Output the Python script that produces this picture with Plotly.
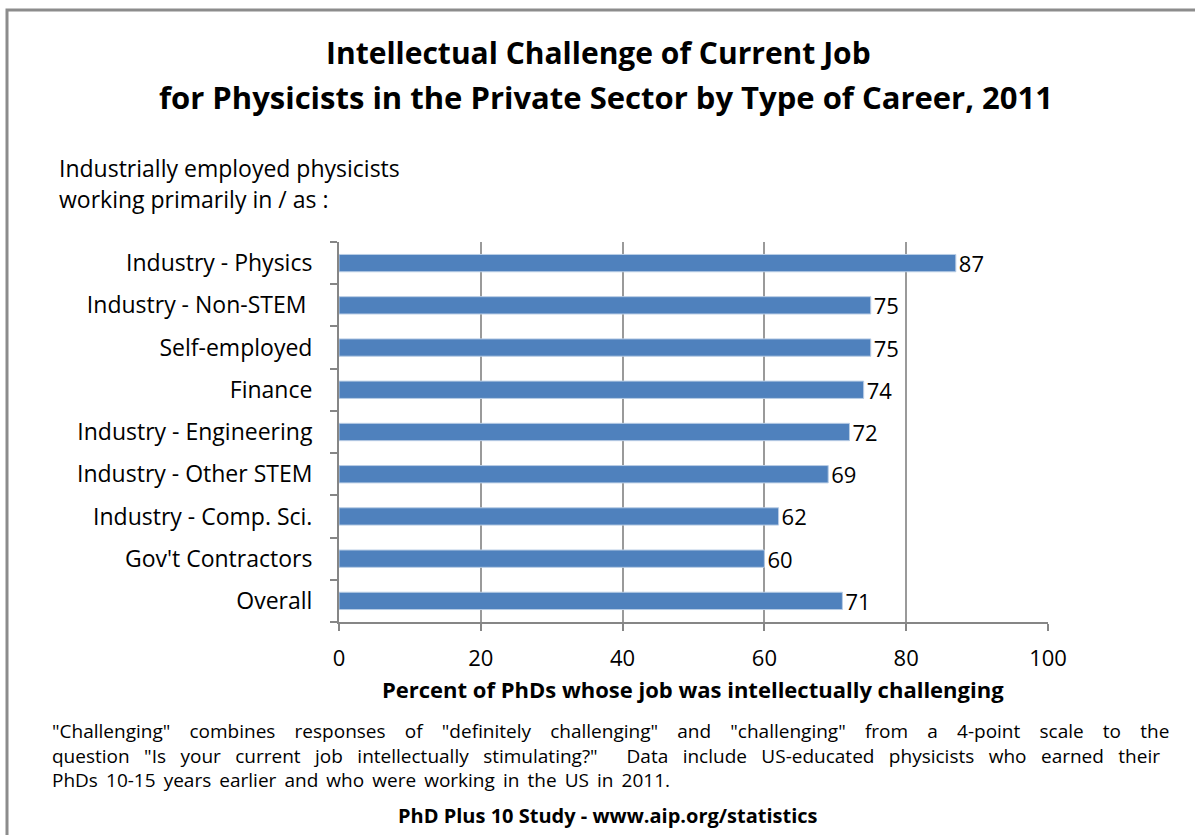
import plotly.graph_objects as go

categories = ["Industry - Physics", "Industry - Non-STEM ", "Self-employed", "Finance",
              "Industry - Engineering", "Industry - Other STEM", "Industry - Comp. Sci.",
              "Gov't Contractors", "Overall"]
values = [87, 75, 75, 74, 72, 69, 62, 60, 71]
x_ticks = [0, 20, 40, 60, 80, 100]

FONT = "Open Sans"
W, H = 1195, 835
L, R, T, B = 339, 1048, 242, 622

fig = go.Figure()
fig.add_trace(go.Bar(
    y=categories, x=values, orientation="h",
    marker=dict(color="#4F81BD", line=dict(color="#B9CDE5", width=1)),
    width=0.41,
    text=[str(v) for v in values], textposition="outside",
    textfont=dict(family=FONT, size=22, color="black"),
    constraintext="none",
    cliponaxis=False,
))

fig.update_layout(
    width=W, height=H,
    margin=dict(l=L, r=W - R, t=T, b=H - B),
    paper_bgcolor="white", plot_bgcolor="white",
    showlegend=False,
    font=dict(family=FONT, color="black"),
)
fig.update_yaxes(
    type="category", categoryorder="array", categoryarray=categories[::-1],
    autorange=False, range=[-0.5, len(categories) - 0.5],
    tickson="boundaries", ticks="outside", ticklen=7, tickcolor="#868686", tickwidth=2,
    showline=True, linecolor="#868686", linewidth=2,
    showgrid=False, tickfont=dict(family=FONT, size=23, color="black"),
    ticklabelstandoff=20,
)
fig.update_xaxes(
    range=[0, 100], tickvals=x_ticks, ticktext=[str(t) for t in x_ticks],
    ticks="outside", ticklen=7, tickcolor="#868686", tickwidth=2,
    showline=True, linecolor="#868686", linewidth=2,
    showgrid=True, gridcolor="#9A9A9A", gridwidth=2,
    tickfont=dict(family=FONT, size=22, color="black"),
    ticklabelstandoff=9,
    zeroline=False,
)

PW, PH = R - L, B - T

def px(x):
    return (x - L) / PW

def py(y):
    return (B - y) / PH

# border (left and top edges visible)
fig.add_shape(type="rect", xref="paper", yref="paper",
              x0=px(7), x1=px(1300), y0=py(900), y1=py(10),
              line=dict(color="#8C8C8C", width=3), fillcolor="rgba(0,0,0,0)", layer="below")

def ann(text, x, y, size, bold=False, xanchor="center", align="center", family=FONT):
    fig.add_annotation(text=f"<b>{text}</b>" if bold else text,
                       xref="paper", yref="paper",
                       x=px(x), y=py(y),
                       xanchor=xanchor, yanchor="middle", showarrow=False, align=align,
                       font=dict(family=family, size=size, color="black"))

ann("Intellectual Challenge of Current Job", 598, 52, 30, bold=True)
ann("for Physicists in the Private Sector by Type of Career, 2011", 606, 97, 31, bold=True)
ann("Industrially employed physicists", 57, 168, 23, xanchor="left", align="left")
ann("working primarily in / as :", 57, 199, 23, xanchor="left", align="left")
ann("Percent of PhDs whose job was intellectually challenging", 693, 689, 22, bold=True)

line1 = '"Challenging" combines responses of "definitely challenging" and "challenging" from a 4-point scale to the'
line2 = 'question "Is your current job intellectually stimulating?"  Data include US-educated physicists who earned their'
line3 = "PhDs 10-15 years earlier and who were working in the US in 2011."
ann(line1.replace(" ", " \u2002\u2005"), 50, 731, 19, xanchor="left", align="left")
ann(line2.replace(" ", " \u2002"), 50, 756, 19, xanchor="left", align="left")
ann(line3.replace(" ", " \u2009"), 50, 780, 19, xanchor="left", align="left")
ann("PhD Plus 10 Study - www.aip.org/statistics", 608, 815, 20, bold=True)

fig.write_html("out.html", config={"displayModeBar": False},
               post_script="document.body.style.margin='0';")
